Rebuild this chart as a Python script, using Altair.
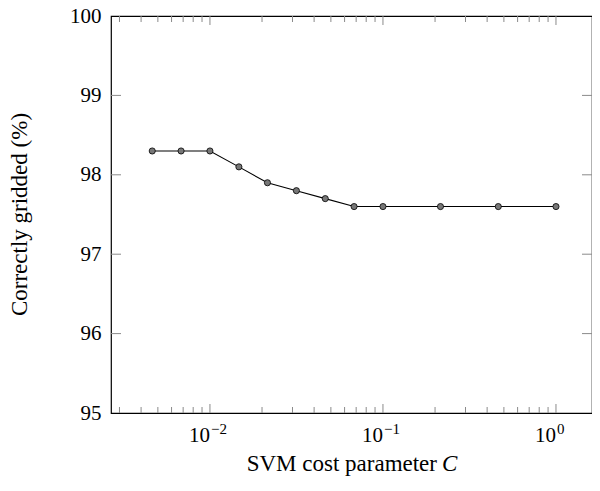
import altair as alt
import pandas as pd

# Data
cost_c = [0.00464, 0.00681, 0.01, 0.0147, 0.0215, 0.0316, 0.0464, 0.0681, 0.1, 0.215, 0.464, 1.0]
accuracy = [98.3, 98.3, 98.3, 98.1, 97.9, 97.8, 97.7, 97.6, 97.6, 97.6, 97.6, 97.6]

major_x = [0.01, 0.1, 1.0]
major_exp = ["\u22122", "\u22121", "0"]
minor_x = [0.003, 0.004, 0.005, 0.006, 0.007, 0.008, 0.009,
           0.02, 0.03, 0.04, 0.05, 0.06, 0.07, 0.08, 0.09,
           0.2, 0.3, 0.4, 0.5, 0.6, 0.7, 0.8, 0.9]
y_ticks = [96, 97, 98, 99]
y_labels = [95, 96, 97, 98, 99, 100]

W, H = 481, 397
FONT = "Liberation Serif"
TICK = "#8a8a8a"

xscale = alt.Scale(type="log", domain=[0.00268, 1.615], nice=False)
yscale = alt.Scale(domain=[95, 100], nice=False, zero=False)

df = pd.DataFrame({"C": cost_c, "acc": accuracy})
df_major = pd.DataFrame({"C": major_x, "exp": major_exp, "base": ["10"] * 3})
df_minor = pd.DataFrame({"C": minor_x})
df_y = pd.DataFrame({"acc": y_ticks})

xnone = alt.X("C:Q", scale=xscale, axis=None)

line = alt.Chart(df).mark_line(color="black", strokeWidth=1.1).encode(
    x=xnone,
    y=alt.Y("acc:Q", scale=yscale,
            axis=alt.Axis(values=y_labels, format="d", ticks=False, domain=False, grid=False,
                          labelFont=FONT, labelFontSize=21, labelPadding=10,
                          labelColor="black", title=None)),
)
pts = alt.Chart(df).mark_point(filled=True, fill="#777777", stroke="black",
                               strokeWidth=0.8, size=38, opacity=1).encode(
    x=xnone, y=alt.Y("acc:Q", scale=yscale)
)

# x ticks (inside, bottom and top)
maj_b = alt.Chart(df_major).mark_rule(color=TICK, strokeWidth=1).encode(
    x=xnone, y=alt.value(H), y2=alt.value(H - 9))
maj_t = alt.Chart(df_major).mark_rule(color=TICK, strokeWidth=1).encode(
    x=xnone, y=alt.value(0), y2=alt.value(9))
min_b = alt.Chart(df_minor).mark_rule(color=TICK, strokeWidth=1).encode(
    x=xnone, y=alt.value(H), y2=alt.value(H - 6))
min_t = alt.Chart(df_minor).mark_rule(color=TICK, strokeWidth=1).encode(
    x=xnone, y=alt.value(0), y2=alt.value(6))

# y ticks (inside, left and right)
y_l = alt.Chart(df_y).mark_rule(color=TICK, strokeWidth=1).encode(
    y=alt.Y("acc:Q", scale=yscale), x=alt.value(0), x2=alt.value(10))
y_r = alt.Chart(df_y).mark_rule(color=TICK, strokeWidth=1).encode(
    y=alt.Y("acc:Q", scale=yscale), x=alt.value(W), x2=alt.value(W - 10))

# x tick labels 10^k
lab_base = alt.Chart(df_major).mark_text(font=FONT, fontSize=21, align="right",
                                         baseline="alphabetic", color="black").encode(
    x=xnone, y=alt.value(426), text="base:N")
lab_exp = alt.Chart(df_major).mark_text(font=FONT, fontSize=15, align="left",
                                        baseline="alphabetic", dx=1, color="black").encode(
    x=xnone, y=alt.value(418), text="exp:N")

# axis titles
xt1 = alt.Chart(pd.DataFrame({"t": ["SVM cost parameter"]})).mark_text(
    font=FONT, fontSize=23, align="right", baseline="alphabetic", color="black").encode(
    x=alt.value(326), y=alt.value(455), text="t:N")
xt2 = alt.Chart(pd.DataFrame({"t": ["C"]})).mark_text(
    font=FONT, fontSize=23, fontStyle="italic", align="left", baseline="alphabetic",
    color="black").encode(x=alt.value(331), y=alt.value(455), text="t:N")
yt = alt.Chart(pd.DataFrame({"t": ["Correctly gridded (%)"]})).mark_text(
    font=FONT, fontSize=23, angle=270, align="center", baseline="middle",
    color="black").encode(x=alt.value(-91), y=alt.value(H / 2), text="t:N")

chart = alt.layer(
    maj_b, maj_t, min_b, min_t, y_l, y_r, line, pts, lab_base, lab_exp, xt1, xt2, yt
).properties(
    width=W, height=H,
    autosize=alt.AutoSizeParams(type="none"),
    padding={"left": 103, "top": 8, "right": 0, "bottom": 66},
).configure_view(stroke="black", strokeWidth=1.2)

chart.save("out.html", embed_options={"renderer": "svg", "actions": False})
